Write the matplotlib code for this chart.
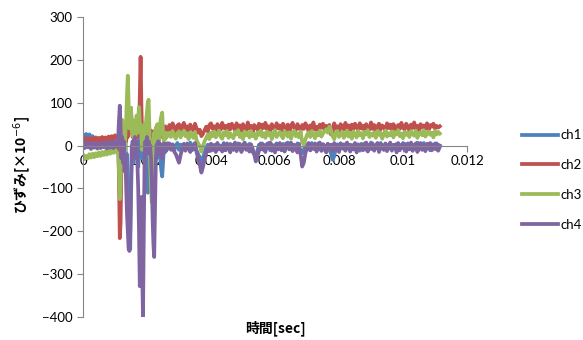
import numpy as np
import matplotlib
matplotlib.use("Agg")
import matplotlib.pyplot as plt

# ---- time grid (seconds): pre-burst, burst (dense), post-burst ----
t_pre = np.arange(22) * 0.00005                 # 0 .. 0.00105
t_burst = 0.0011 + np.arange(63) * 0.000025     # 0.0011 .. 0.00265
t_post = 0.0027 + np.arange(170) * 0.00005      # 0.0027 .. 0.01115

series_names = ["ch1", "ch2", "ch3", "ch4"]

# ---- ch1 ----
ch1_pre = [25, 18, 27, 20, 26, 15, 22, 12, 18, 10, 15, 8, 14, 6, 12, 5, 10, 4, 9, 3, 8, 2]
ch1_burst = [10, -20, -60, 30, -40, 20, -30, 10, -50, 20, -60, -20, -150, -200, -230, -242,
             -120, -30, 10, -40, 20, -20, 10, -30, 0, -50, -20, 20, -10, 10, -30, 0, 20, -20,
             10, -40, -80, -110, -105, -60, -20, 10, -30, 0, -20, 10, -10, 5, -30, 0, -20, 10,
             -10, -40, -60, -72, -40, -10, 5, -15, 0, -10, 5]
ch1_post = [5, -8, 3, -12, 0, 6, -10, 2, -6, 4,
            -9, 1, -5, 7, -11, 3, -4, -12, -20, -28,
            -40, -30, -15, -5, 2, -8, 4, -10, 1, -6,
            5, -9, 0, -3, 6, -11, 2, -7, 4, -5,
            -10, 3, -6, 5, -2, -12, 1, 7, -8, 0,
            4, -9, -15, -20, -25, -12, 2, -6, 5, -10,
            1, -4, 6, -11, 3, -7, 0, 5, -9, 2,
            -6, 4, -12, 1, 7, -8, 3, -5, 0, -10,
            5, -3, -14, -18, -10, 2, -7, 4, -11, 6,
            -4, 1, -9, 5, -2, -12, 3, 0, -7, 4,
            -10, -18, -33, -25, -6, 3, -8, 5, -3, 1,
            -11, 6, -5, 2, -9, 0, 4, -7, 3, -12,
            1, -6, 5, -10, 2, -4, 7, -8, 0, -5,
            3, -11, 6, -2, -9, 4, 0, -7, 5, -12,
            2, -6, 4, -10, 1, -3, 6, -9, 0, 5,
            -8, 3, -12, 2, -5, 7, -10, 1, -4, 6,
            -7, 0, 4, -11, 3, -6, 5, -9, 2, 0]

# ---- ch2 ----
ch2_pre = [15, 8, 18, 10, 16, 9, 17, 11, 19, 12, 18, 10, 20, 13, 19, 12, 21, 14, 22, 15, 24, 18]
ch2_burst = [20, -80, -216, -180, -40, 30, 10, 40, 0, 30, 10, 40, 20, 50, 30, 60, 88, 40, 20,
             30, 10, 35, 15, 30, 20, 35, 25, 120, 207, 90, 20, 30, 15, 30, 20, 35, 10, 25, 15,
             30, 20, 35, 10, 30, 25, 20, 35, 30, 45, 25, 40, 30, 45, 25, 35, 20, 35, 40, 30,
             45, 35, 40, 30]
ch2_post = [48, 38, 52, 41, 33, 47, 50, 36, 44, 53,
            39, 45, 31, 49, 42, 35, 51, 40, 30, 37,
            22, 28, 36, 44, 33, 48, 52, 39, 45, 34,
            50, 43, 37, 53, 41, 46, 32, 49, 38, 51,
            44, 35, 52, 40, 47, 33, 50, 42, 36, 54,
            39, 46, 31, 48, 43, 37, 51, 34, 49, 41,
            53, 38, 45, 33, 50, 42, 36, 52, 40, 47,
            34, 51, 44, 38, 49, 32, 46, 53, 41, 36,
            50, 43, 35, 48, 39, 52, 45, 33, 47, 40,
            54, 37, 44, 31, 49, 42, 51, 35, 46, 39,
            48, 26, 30, 52, 40, 45, 34, 50, 43, 37,
            53, 41, 47, 33, 49, 38, 51, 44, 36, 52,
            40, 46, 34, 50, 42, 37, 54, 39, 48, 32,
            45, 51, 38, 47, 43, 35, 52, 41, 49, 36,
            50, 44, 33, 48, 39, 53, 42, 37, 51, 45,
            35, 49, 41, 54, 38, 46, 32, 50, 43, 47,
            39, 52, 36, 48, 44, 51, 40, 46, 42, 45]

# ---- ch3 ----
ch3_pre = [-22, -32, -24, -30, -20, -28, -19, -27, -18, -25, -16, -24, -15, -22, -13, -21,
           -12, -19, -10, -17, -8, -15]
ch3_burst = [-20, -60, -125, -90, 20, 60, 0, 40, -20, 30, 60, 120, 163, 100, 40, 70, 88, 30,
             60, 20, 50, 10, 40, 70, 30, 60, 90, 50, 49, 20, -10, 30, 10, 50, 20, 60, 80, 100,
             107, 40, -40, -100, -133, -60, 10, 30, 10, 40, 20, 50, 30, 10, 40, 60, 70, 77, 30,
             10, 25, 15, 30, 20, 25]
ch3_post = [30, 20, 34, 24, 16, 29, 33, 19, 27, 35,
            22, 28, 15, 31, 25, 18, 32, 12, 5, -2,
            -14, 0, 10, 18, 26, 15, 30, 22, 33, 19,
            27, 35, 21, 16, 31, 24, 34, 18, 29, 23,
            17, 32, 26, 36, 20, 28, 15, 33, 24, 30,
            19, 34, 22, 27, 16, 31, 25, 35, 21, 29,
            18, 33, 24, 30, 15, 28, 36, 20, 26, 32,
            23, 17, 34, 27, 21, 31, 16, 29, 35, 22,
            28, 19, 33, 8, 2, 14, 25, 31, 20, 34,
            26, 17, 30, 24, 35, 21, 28, 33, 38, 30,
            44, 36, 22, 15, 29, 34, 20, 27, 32, 18,
            25, 35, 21, 30, 16, 33, 27, 19, 34, 24,
            29, 17, 32, 26, 36, 20, 28, 23, 31, 18,
            34, 25, 30, 16, 27, 35, 21, 29, 24, 33,
            19, 31, 26, 36, 22, 28, 17, 32, 25, 30,
            20, 34, 27, 23, 35, 18, 29, 31, 24, 36,
            21, 28, 33, 25, 30, 19, 34, 26, 32, 28]

# ---- ch4 ----
ch4_pre = [5, -6, 8, -4, 6, -8, 4, -5, 7, -7, 3, -6, 6, -4, 8, -7, 5, -5, 9, -6, 10, -3]
ch4_burst = [20, 60, 93, 40, -30, 20, -40, 10, -60, -20, -100, -160, -200, -240, -246, -200,
             -80, 0, -30, 10, -20, 20, -10, 10, -40, -100, -200, -328, -260, -120, -300, -400,
             -200, -30, 10, -20, 20, -10, 10, -20, 0, -30, -80, -170, -230, -260, -150, -40, 0,
             -20, 10, -15, 5, -20, 0, -30, -10, 5, -15, 0, -10, 5, -5]
ch4_post = [4, -10, 2, -14, -20, -30, -40, -22, -8, 3,
            -12, 5, -6, -15, 0, -9, 6, -16, -30, -45,
            -63, -50, -30, -18, -5, -13, 4, -10, 1, -15,
            6, -8, -2, -14, 3, -11, 5, -6, -16, 2,
            -9, 7, -13, -1, 4, -15, -5, 6, -10, 0,
            -14, 3, -7, -20, -37, -25, -12, 5, -9, 1,
            -15, 4, -6, 7, -12, -2, -16, 3, -8, 6,
            -11, 0, -14, 5, -4, -9, 7, -13, 2, -7,
            -16, 4, -20, -49, -40, -18, -5, 6, -11, 1,
            -8, 5, -14, -2, 7, -12, 3, -9, -16, 4,
            -6, 2, -13, 6, -10, -1, -15, 5, -7, 3,
            -12, 7, -4, -14, 1, -9, 6, -16, 0, -6,
            4, -11, -3, 7, -14, 2, -8, 5, -12, -1,
            6, -15, 3, -7, -10, 5, -13, 0, 7, -9,
            -4, 2, -16, 6, -11, 1, -6, 4, -14, 3,
            -9, 7, -12, -2, 5, -15, 0, 6, -10, 2,
            -13, 4, -7, 6, -11, 1, -8, 5, -12, -3]

colors = ["#4F81BD", "#C0504D", "#9BBB59", "#8064A2"]

x_ticks = [0, 0.002, 0.004, 0.006, 0.008, 0.010, 0.012]
x_tick_labels = ["0", "0.002", "0.004", "0.006", "0.008", "0.01", "0.012"]
y_ticks = [-400, -300, -200, -100, 0, 100, 200, 300]

t_all = np.concatenate([t_pre, t_burst, t_post])
data = [
    np.concatenate([ch1_pre, ch1_burst, ch1_post]),
    np.concatenate([ch2_pre, ch2_burst, ch2_post]),
    np.concatenate([ch3_pre, ch3_burst, ch3_post]),
    np.concatenate([ch4_pre, ch4_burst, ch4_post]),
]

fig = plt.figure(figsize=(5.83, 3.40), dpi=100)
ax = fig.add_axes([83 / 583, 1 - 317 / 340, 384 / 583, 300 / 340])

for name, vals, c in zip(series_names, data, colors):
    ax.plot(t_all, vals, color=c, lw=2.7, label=name, solid_joinstyle="round")

ax.set_xlim(0, 0.012)
ax.set_ylim(-400, 300)
ax.set_xticks(x_ticks)
ax.set_xticklabels(x_tick_labels)
ax.set_yticks(y_ticks)

axis_gray = "#868686"
for s in ["top", "right"]:
    ax.spines[s].set_visible(False)
ax.spines["bottom"].set_position(("data", 0))
ax.spines["bottom"].set_color(axis_gray)
ax.spines["left"].set_color(axis_gray)
ax.tick_params(axis="both", colors=axis_gray, labelcolor="black", labelsize=9.5,
               length=4, width=0.8)
ax.tick_params(axis="x", direction="out", pad=3)
for lab in ax.get_xticklabels() + ax.get_yticklabels():
    lab.set_fontfamily(["Lato", "DejaVu Sans"])

cjk = ["Noto Sans CJK JP", "DejaVu Sans"]
fig.text(22 / 583, 1 - 165 / 340, "ひずみ[×10$^{-6}$]", rotation=90, ha="center",
         va="center", fontsize=10, fontweight="bold", family=cjk)
fig.text(275 / 583, 1 - 328 / 340, "時間[sec]", ha="center", va="center",
         fontsize=10, fontweight="bold", family=cjk)

leg = fig.legend(loc="center left", bbox_to_anchor=(510 / 583, 1 - 180 / 340),
                 frameon=False, labelspacing=1.35, handlelength=2.7,
                 handletextpad=0.25, prop={"family": ["Lato", "DejaVu Sans"], "size": 9.5})
for h in leg.get_lines():
    h.set_linewidth(2.7)

fig.savefig("out.png", dpi=100)
